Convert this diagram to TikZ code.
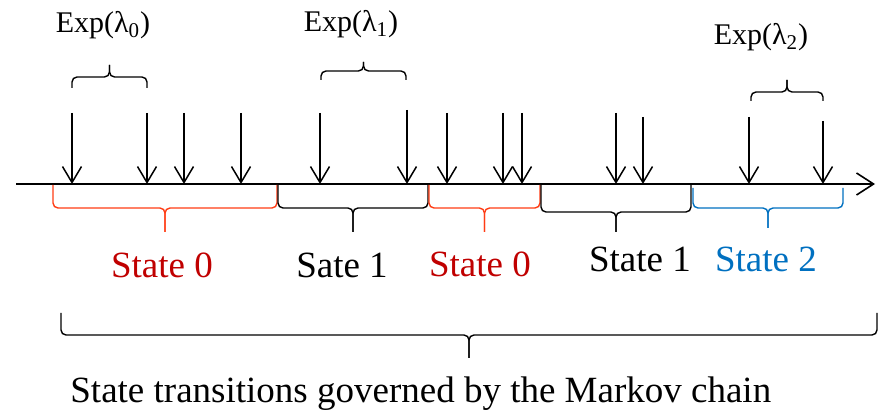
\documentclass[tikz,border=0pt]{standalone}
\usepackage{fontspec}
\setmainfont{Liberation Serif}
\usetikzlibrary{arrows.meta}

\definecolor{zerored}{RGB}{192,0,0}
\definecolor{zerobrace}{RGB}{255,60,20}
\definecolor{twoblue}{RGB}{0,112,192}

% curly brace: [colour] x left, x right, y of the ends, y of the bar, y of the tip
\newcommand{\cbrace}[6][black]{%
  \draw[#1,line width=0.7pt,rounded corners=2.5pt] (#2,#4) |- ({(#2+#3)/2},#5) -- ({(#2+#3)/2},#6);
  \draw[#1,line width=0.7pt,rounded corners=2.5pt] (#3,#4) |- ({(#2+#3)/2},#5) -- ({(#2+#3)/2},#6);
}

\tikzset{
  arrival/.style={-{Straight Barb[length=8pt,width=9.5pt]},line width=0.75pt},
  timeaxis/.style={-{Straight Barb[length=8.5pt,width=11pt]},line width=0.8pt},
  explabel/.style={anchor=base,inner sep=0pt,font=\fontsize{15}{18}\selectfont},
  statelabel/.style={anchor=base,inner sep=0pt,font=\fontsize{18.5}{22}\selectfont},
}

\begin{document}
\begin{tikzpicture}[x=0.5pt,y=-0.5pt]
  \useasboundingbox (0,0) rectangle (879,411);

  % time axis
  \coordinate (start) at (16,184);
  \coordinate (end) at (875,184);
  \draw[timeaxis] (start) -- (end);

  % arrivals
  \foreach \x/\t in {72/113,147/113,184/113,241/113,
                     320/113,407/110,447/113,503/113,522/113,
                     616/113,643/117,749/117,823/121}
    \draw[arrival] (\x,\t) -- (\x,184);

  % inter-arrival times
  \cbrace{72}{147}{88}{77}{65}
  \cbrace{321}{406}{80}{71}{62}
  \cbrace{751}{823}{101}{92}{80}
  \node[explabel] (exp0) at (103,33) {Exp(λ\textsubscript{0})};
  \node[explabel] (exp1) at (351,32) {Exp(λ\textsubscript{1})};
  \node[explabel] (exp2) at (761,45) {Exp(λ\textsubscript{2})};

  % sojourns in each state
  \cbrace[zerobrace]{53}{277}{185}{208}{232}
  \cbrace{278}{428}{185}{208}{232}
  \cbrace[zerobrace]{429}{540}{185}{208}{232}
  \cbrace{541}{691}{185}{212}{232}
  \cbrace[twoblue]{693}{843}{188}{208}{228}
  \node[statelabel,text=zerored] (s0a) at (162,278) {State 0};
  \node[statelabel] (s1a) at (342,278) {Sate 1};
  \node[statelabel,text=zerored] (s0b) at (480,277) {State 0};
  \node[statelabel] (s1b) at (640,272) {State 1};
  \node[statelabel,text=twoblue] (s2) at (766,272) {State 2};

  % whole chain
  \cbrace{61}{877}{313}{335}{358}
  \node[statelabel,anchor=base west] (chain) at (70,403) {State transitions governed by the Markov chain};
\end{tikzpicture}
\end{document}
